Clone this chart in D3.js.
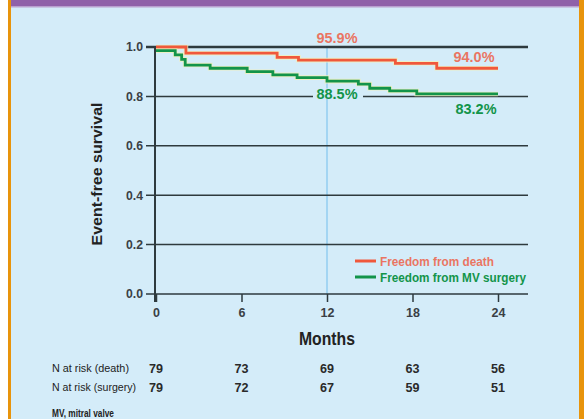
<!DOCTYPE html>
<html>
<head>
<meta charset="utf-8">
<script src="https://cdn.jsdelivr.net/npm/d3@7/dist/d3.min.js"></script>
<style>
  html, body { margin: 0; padding: 0; background: #ffffff; }
  svg { display: block; }
  text { font-family: "Liberation Sans Narrow", "Arial Narrow", "Liberation Sans", Arial, sans-serif; }
</style>
</head>
<body>
<svg id="chart" width="584" height="419"></svg>
<script>
// ---- data ----
const deathTimes = [0, 2.1, 8.5, 10.0, 16.8, 19.7, 24];
const deathSurv  = [1.0, 0.975, 0.958, 0.947, 0.934, 0.914, 0.914];
const surgTimes  = [0, 1.35, 1.8, 2.05, 3.8, 6.4, 8.2, 9.9, 12.0, 14.2, 15.0, 16.4, 18.3, 24];
const surgSurv   = [0.985, 0.968, 0.950, 0.927, 0.914, 0.900, 0.887, 0.876, 0.862, 0.850, 0.833, 0.822, 0.810, 0.810];
const monthTicks = [0, 6, 12, 18, 24];
const yTicks     = [0, 0.2, 0.4, 0.6, 0.8, 1.0];
const atRiskDeath   = [79, 73, 69, 63, 56];
const atRiskSurgery = [79, 72, 67, 59, 51];
const seriesNames = ["Freedom from death", "Freedom from MV surgery"];
const annotations = [
  {text: "95.9%", month: 12, series: 0, at: "top"},
  {text: "94.0%", month: 24, series: 0, at: "end"},
  {text: "88.5%", month: 12, series: 1, at: "grid"},
  {text: "83.2%", month: 24, series: 1, at: "below"}
];

// ---- styles ----
const RED = "#f0583c", GREEN = "#12944a", GRID = "#2e3a3e", BG = "#d4ecf9";

const svg = d3.select("#chart");
// frame
svg.append("rect").attr("x", 8).attr("y", 0).attr("width", 573).attr("height", 419).attr("fill", BG);
svg.append("rect").attr("x", 8).attr("y", 0).attr("width", 3).attr("height", 419).attr("fill", "#e8940c");
svg.append("rect").attr("x", 579).attr("y", 0).attr("width", 5).attr("height", 419).attr("fill", "#e8940c");
svg.append("rect").attr("x", 11).attr("y", 0).attr("width", 568).attr("height", 6).attr("fill", "#9061a9");
svg.append("rect").attr("x", 11).attr("y", 6).attr("width", 568).attr("height", 1.5).attr("fill", "#b9a0cf");

const x = d3.scaleLinear().domain([0, 24]).range([156, 498]);
const y = d3.scaleLinear().domain([0, 1]).range([294, 47]);

// condensed text helper
function cond(sel, len) {
  return sel.attr("textLength", len).attr("lengthAdjust", "spacingAndGlyphs");
}

// 12-month reference line
svg.append("line").attr("x1", x(12)).attr("x2", x(12)).attr("y1", y(1)).attr("y2", y(0))
  .attr("stroke", "#82c6ee").attr("stroke-width", 1.2);

// horizontal gridlines (extend left as ticks)
svg.append("g").selectAll("line").data(yTicks).join("line")
  .attr("x1", 146).attr("x2", 528)
  .attr("y1", d => y(d)).attr("y2", d => y(d))
  .attr("stroke", GRID)
  .attr("stroke-width", d => d === 1 ? 2.4 : 1.5);

// y tick labels
svg.append("g").selectAll("text").data(yTicks).join("text")
  .attr("x", 143).attr("y", d => y(d)).attr("dy", "0.35em")
  .attr("text-anchor", "end").attr("font-size", 12.5).attr("font-weight", "bold")
  .attr("fill", "#3a3f45").attr("textLength", 17).attr("lengthAdjust", "spacingAndGlyphs")
  .text(d => d.toFixed(1));

// x axis with d3 axis (ticks downward)
const xAxis = d3.axisBottom(x).tickValues(monthTicks).tickSize(8).tickPadding(6).tickFormat(d3.format("d"));
const gx = svg.append("g").attr("transform", `translate(0,${y(0)})`).call(xAxis);
gx.select(".domain").remove();
gx.selectAll(".tick line").attr("stroke", GRID).attr("stroke-width", 1.5);
gx.selectAll(".tick text").attr("font-size", 12.5).attr("font-weight", "bold").attr("fill", "#3a3f45")
  .attr("font-family", "Liberation Sans Narrow, Arial Narrow, Liberation Sans, sans-serif");

// vertical axis line
svg.append("line").attr("x1", x(0) - 1).attr("x2", x(0) - 1).attr("y1", y(1) - 1).attr("y2", y(0) + 8)
  .attr("stroke", GRID).attr("stroke-width", 2);

// survival step curves
const line = d3.line().x(d => x(d[0])).y(d => y(d[1])).curve(d3.curveStepAfter);
const series = [
  {t: deathTimes, s: deathSurv, color: RED},
  {t: surgTimes, s: surgSurv, color: GREEN}
];
series.forEach(sr => {
  const pts = sr.t.map((t, i) => [t, sr.s[i]]);
  svg.append("path").datum(pts).attr("d", line).attr("fill", "none")
    .attr("stroke", "#f3f0b8").attr("stroke-width", 4.6).attr("opacity", 0.8);
  svg.append("path").datum(pts).attr("d", line).attr("fill", "none")
    .attr("stroke", sr.color).attr("stroke-width", 2.8);
});

// annotations
annotations.forEach(a => {
  const color = a.series === 0 ? RED : GREEN;
  const sr = series[a.series];
  let px = x(a.month) + 10, py;
  if (a.at === "top") py = y(1) - 9;
  else if (a.at === "end") { px = x(a.month) - 24; py = y(sr.s[sr.s.length - 1]) - 11; }
  else if (a.at === "grid") py = y(0.8) - 2;
  else { px = x(a.month) - 22; py = y(sr.s[sr.s.length - 1]) + 15; }
  if (a.at === "grid") {
    svg.append("rect").attr("x", px - 24).attr("y", py - 6).attr("width", 50).attr("height", 10).attr("fill", BG);
  }
  const t = svg.append("text").attr("x", px - 20.5).attr("y", py).attr("dy", "0.35em")
    .attr("font-size", 14.5).attr("font-weight", "bold")
    .attr("fill", color).attr("opacity", a.series === 0 ? 0.8 : 1).text(a.text);
  cond(t, 41);
});

// legend
const legend = svg.append("g");
const legendLens = [114, 146];
seriesNames.forEach((name, i) => {
  const ly = 261 + i * 16;
  const color = i === 0 ? RED : GREEN;
  legend.append("line").attr("x1", 355).attr("x2", 376).attr("y1", ly).attr("y2", ly)
    .attr("stroke", color).attr("stroke-width", 3);
  const t = legend.append("text").attr("x", 380).attr("y", ly).attr("dy", "0.35em")
    .attr("font-size", 13).attr("font-weight", "bold").attr("fill", color)
    .attr("opacity", i === 0 ? 0.8 : 1).text(name);
  cond(t, legendLens[i]);
});

// axis titles
cond(svg.append("text").attr("x", 0).attr("y", 0).attr("transform", `translate(97,174) rotate(-90)`)
  .attr("dx", -71.5).attr("dy", "0.35em")
  .attr("font-size", 15.5).attr("font-weight", "bold").attr("fill", "#222").text("Event-free survival"), 143);
cond(svg.append("text").attr("x", x(12) - 28).attr("y", 339).attr("dy", "0.35em")
  .attr("font-size", 18).attr("font-weight", "bold").attr("fill", "#222").text("Months"), 56);

// numbers at risk table
const rows = [
  {label: "N at risk (death)", vals: atRiskDeath, y: 368, len: 77},
  {label: "N at risk (surgery)", vals: atRiskSurgery, y: 387, len: 84}
];
rows.forEach(r => {
  cond(svg.append("text").attr("x", 52).attr("y", r.y).attr("dy", "0.35em")
    .attr("font-size", 11.5).attr("fill", "#222").text(r.label), r.len);
  svg.append("g").selectAll("text").data(r.vals).join("text")
    .attr("x", (d, i) => x(monthTicks[i]) - 7).attr("y", r.y).attr("dy", "0.35em")
    .attr("font-size", 13.5).attr("font-weight", "bold")
    .attr("textLength", 14).attr("lengthAdjust", "spacingAndGlyphs")
    .attr("fill", "#2a2a2a").text(d => d);
});
cond(svg.append("text").attr("x", 52).attr("y", 413).attr("dy", "0.35em")
  .attr("font-size", 10.5).attr("font-weight", "bold").attr("fill", "#222").text("MV, mitral valve"), 62);
</script>
</body>
</html>
